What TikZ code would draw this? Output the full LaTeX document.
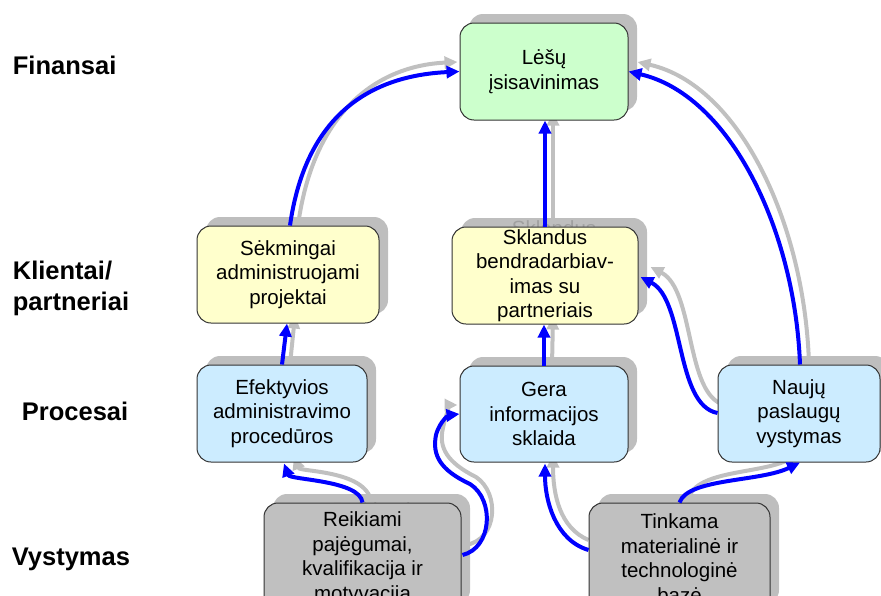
\documentclass[tikz,border=0pt]{standalone}
\usepackage{fontspec}
\setmainfont{Liberation Sans}
\usetikzlibrary{arrows.meta,calc}
\definecolor{cgreen}{RGB}{204,255,204}
\definecolor{cyellow}{RGB}{255,255,204}
\definecolor{cblue}{RGB}{204,236,255}
\definecolor{cgray}{RGB}{192,192,192}
\definecolor{cshadow}{RGB}{190,190,190}
\definecolor{cghost}{RGB}{160,160,160}
\definecolor{arrowblue}{RGB}{0,0,255}
\definecolor{arrowgray}{RGB}{192,192,192}
\pgfdeclarelayer{garrow}
\pgfdeclarelayer{shadow}
\pgfsetlayers{garrow,shadow,main}
\tikzset{
  boxtext/.style={inner sep=0pt, align=center, rounded corners=14pt, font=\fontsize{20.5}{24.5}\selectfont},
  box/.style={boxtext, draw=black!80, line width=1pt},
  shadowbox/.style={boxtext, fill=cshadow, text=cghost},
  level/.style={anchor=base west, inner sep=0pt, font=\bfseries\fontsize{25.5}{30}\selectfont},
  bluearrow/.style={draw=arrowblue, line width=4pt, -{Triangle[length=13pt,width=12pt]}},
  grayarrow/.style={draw=arrowgray, line width=4pt, -{Triangle[length=13pt,width=12pt]}},
}
% name, centre, width, height, fill, text, text of the shadow
\newcommand\drawbox[7]{%
  \begin{pgfonlayer}{shadow}
    \node[shadowbox, minimum width=#3, minimum height=#4] (#1-s) at ($#2+(9,-9)$) {#7};
  \end{pgfonlayer}
  \node[box, fill=#5, minimum width=#3, minimum height=#4] (#1) at #2 {#6};
}
\begin{document}
\begin{tikzpicture}[x=1pt,y=-1pt]
\useasboundingbox (0,0) rectangle (881,595);

% level labels
\node[level] (fin) at (12.7,74) {Finansai};
\node[level] (kli1) at (12.7,279) {Klientai/};
\node[level] (kli2) at (12.7,310) {partneriai};
\node[level] (proc) at (21.7,420) {Procesai};
\node[level] (vyst) at (11.7,565) {Vystymas};

% boxes
\drawbox{lesu}{(544,71.5)}{168pt}{97pt}{cgreen}{Lėšų\\įsisavinimas}{}
\drawbox{sekm}{(288,274.5)}{182pt}{97pt}{cyellow}{Sėkmingai\\administruojami\\projektai}{}
\drawbox{sklan}{(545,275.5)}{186pt}{97pt}{cyellow}{Sklandus\\bendradarbiav-\\imas su\\partneriais}{Sklandus\\\phantom{bendradarbiav-}\\\phantom{imas su}\\\phantom{partneriais}}
\drawbox{efek}{(282,413.5)}{170pt}{97pt}{cblue}{Efektyvios\\administravimo\\procedūros}{}
\drawbox{gera}{(544,414)}{168pt}{96pt}{cblue}{Gera\\informacijos\\sklaida}{}
\drawbox{nauj}{(799,413.5)}{162pt}{97pt}{cblue}{Naujų\\paslaugų\\vystymas}{}
\drawbox{reik}{(362.5,558)}{197pt}{110pt}{cgray}{Reikiami\\pajėgumai,\\kvalifikacija ir\\motyvacija}{Reikiami\\\phantom{pajėgumai,}\\\phantom{kvalifikacija ir}\\\phantom{motyvacija}}
\drawbox{tink}{(679.5,558)}{181pt}{110pt}{cgray}{Tinkama\\materialinė ir\\technologinė\\bazė}{Tinkama\\\phantom{materialinė ir}\\\phantom{technologinė}\\\phantom{bazė}}

% gray shadow connectors
\begin{pgfonlayer}{garrow}
\draw[grayarrow] ($(sekm.north)+(10,0)$) .. controls (313,114) and (375,66) .. ($(lesu.west)+(-2,-9.5)$);
\draw[grayarrow] ($(sklan.north)+(8,0)$) -- ($(lesu.south)+(9,-8)$);
\draw[grayarrow] ($(nauj.north)+(10,0)$) .. controls (805,225) and (740,85) .. ($(lesu.east)+(9,-9.5)$);
\draw[grayarrow] ($(efek.north)+(8,0)$) -- ($(sekm.south)+(7,-8)$);
\draw[grayarrow] ($(gera.north)+(8,0)$) -- ($(sklan.south)+(8,-8)$);
\draw[grayarrow] ($(nauj.west)+(7,-8.5)$) .. controls (685,395) and (695,290) .. ($(sklan.east)+(12,-8.5)$);
\draw[grayarrow] ($(reik.north)+(9,2)$) .. controls (370,470) and (300,472) .. ($(efek.south)+(12,-6)$);
\draw[grayarrow] ($(reik.east)+(4,-13)$) .. controls (498,540) and (500,493) .. (476,477)
   .. controls (448,463) and (438,448) .. (443,428)
   .. controls (446,412) and (452,405) .. ($(gera.west)+(-2,-9)$);
\draw[grayarrow] ($(tink.west)+(0,-18)$) .. controls (560,528) and (553,495) .. ($(gera.south)+(9,-8)$);
\draw[grayarrow] ($(tink.north)+(9,-4)$) .. controls (696,470) and (760,474) .. ($(nauj.south)+(0,-8)$);
\end{pgfonlayer}

% blue connectors
\draw[bluearrow] ($(sekm.north)+(2,0)$) .. controls (305,120) and (365,76) .. (lesu.west);
\draw[bluearrow] (sklan.north) -- (sklan.north|-lesu.south);
\draw[bluearrow] ($(nauj.north)+(1,0)$) .. controls (795,230) and (730,95) .. (lesu.east);
\draw[bluearrow] (efek.north) -- ($(sekm.south)+(-1,0)$);
\draw[bluearrow] (gera.north) -- (gera.north|-sklan.south);
\draw[bluearrow] ($(nauj.west)+(0,-0.5)$) .. controls (675,405) and (685,300) .. ($(sklan.east)+(2,1.5)$);
\draw[bluearrow] (reik.north) .. controls (360,480) and (290,480) .. ($(efek.south)+(2,1)$);
\draw[bluearrow] ($(reik.east)+(1,-3)$) .. controls (492,548) and (495,500) .. (470,484)
   .. controls (440,470) and (432,455) .. (436,435)
   .. controls (440,420) and (450,415) .. (gera.west);
\draw[bluearrow] ($(tink.west)+(0,-8)$) .. controls (555,540) and (545,500) .. ($(gera.south)+(1,1)$);
\draw[bluearrow] (tink.north) .. controls (688,478) and (760,482) .. ($(nauj.south)+(1,0)$);
\end{tikzpicture}
\end{document}
